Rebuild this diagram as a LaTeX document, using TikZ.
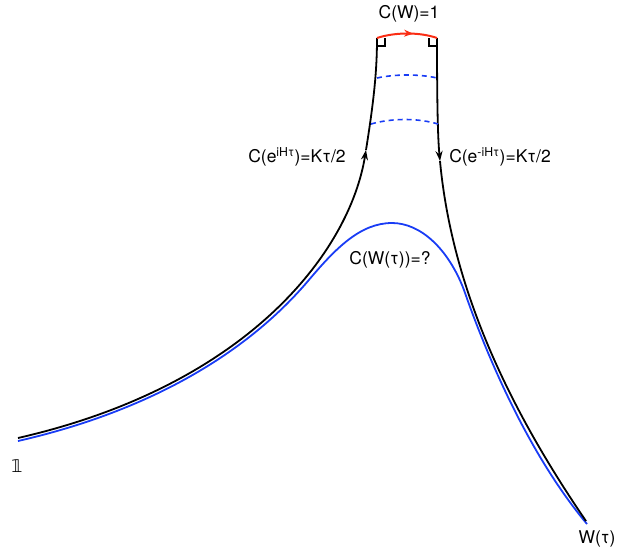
\documentclass[tikz,border=0pt]{standalone}
\usepackage{fontspec}
\setmainfont{TeX Gyre Heros}
\newfontfamily\dejavu{DejaVu Sans}
\definecolor{arcRed}{RGB}{250, 45, 20}
\definecolor{curveBlue}{RGB}{25, 60, 245}
\usetikzlibrary{arrows.meta, decorations.markings}

\begin{document}
\begin{tikzpicture}[
    x=1pt, y=-1pt,
    wall/.style={line width=1.8pt, black},
    geod/.style={line width=1.8pt, curveBlue},
    slice/.style={line width=1.6pt, curveBlue, dash pattern=on 5pt off 4pt},
    corner/.style={line width=1.3pt, black},
    flow/.style={-{Stealth[length=10pt, width=7pt]}},
    lbl/.style={font=\fontsize{17.5}{20}\selectfont, inner sep=0pt},
  ]
    \useasboundingbox (0,0) rectangle (631,552);

    % end points
    \coordinate (id) at (18,438);
    \coordinate (wt) at (586,521);
    \coordinate (tl) at (377,38);
    \coordinate (tr) at (437,38);
    \coordinate (la) at (366,150);
    \coordinate (ra) at (440,161);

    % time slices
    \coordinate (s1l) at (377,78);
    \coordinate (s1r) at (437,78);
    \coordinate (s2l) at (371,124);
    \coordinate (s2r) at (438,124);

    % blue path W(t)
    \draw[geod] ([yshift=-3pt]id) .. controls (158,409) and (251,348) .. (308,281)
          .. controls (335,249) and (360,223) .. (392,223)
          .. controls (420,223) and (448,248) .. (464,290)
          .. controls (483,345) and (525,450) .. ([shift={(1pt,-3pt)}]wt);

    % forward and backward evolution
    \draw[wall, flow] (id) .. controls (250,385) and (350,250) .. (la);
    \draw[wall] (la) .. controls (374,100) and (377,70) .. (tl);
    \draw[wall, flow] (tr) .. controls (437,110) and (438,140) .. (ra);
    \draw[wall] (ra) .. controls (452,290) and (510,410) .. (wt);

    \draw[slice] (s1l) .. controls (395,74) and (420,74) .. (s1r);
    \draw[slice] (s2l) .. controls (392,118) and (418,118) .. (s2r);

    % top cut
    \draw[line width=2pt, arcRed,
          decoration={markings, mark=at position 0.6 with {\arrow{Stealth[length=9pt, width=7pt]}}},
          postaction={decorate}]
         (tl) .. controls (395,32) and (420,32) .. (tr);
    \draw[corner] ([yshift=-8pt]tl) -| ([xshift=8pt]tl);
    \draw[corner] ([yshift=-8pt]tr) -| ([xshift=-8pt]tr);

    % labels
    \node[lbl] (cw) at (409,14) {C(W)=1};
    \node[lbl] (cf) at (297,157) {C(e\textsuperscript{iHτ})=Kτ/2};
    \node[lbl] (cb) at (500,157) {C(e\textsuperscript{-iHτ})=Kτ/2};
    \node[lbl] (cq) at (390,260) {C(W(τ))=?};
    \node[lbl, font=\fontsize{17.5}{20}\dejavu] (one) at (17,466) {𝟙};
    \node[lbl] (wl) at (597,539) {W(τ)};
  \end{tikzpicture}
\end{document}
